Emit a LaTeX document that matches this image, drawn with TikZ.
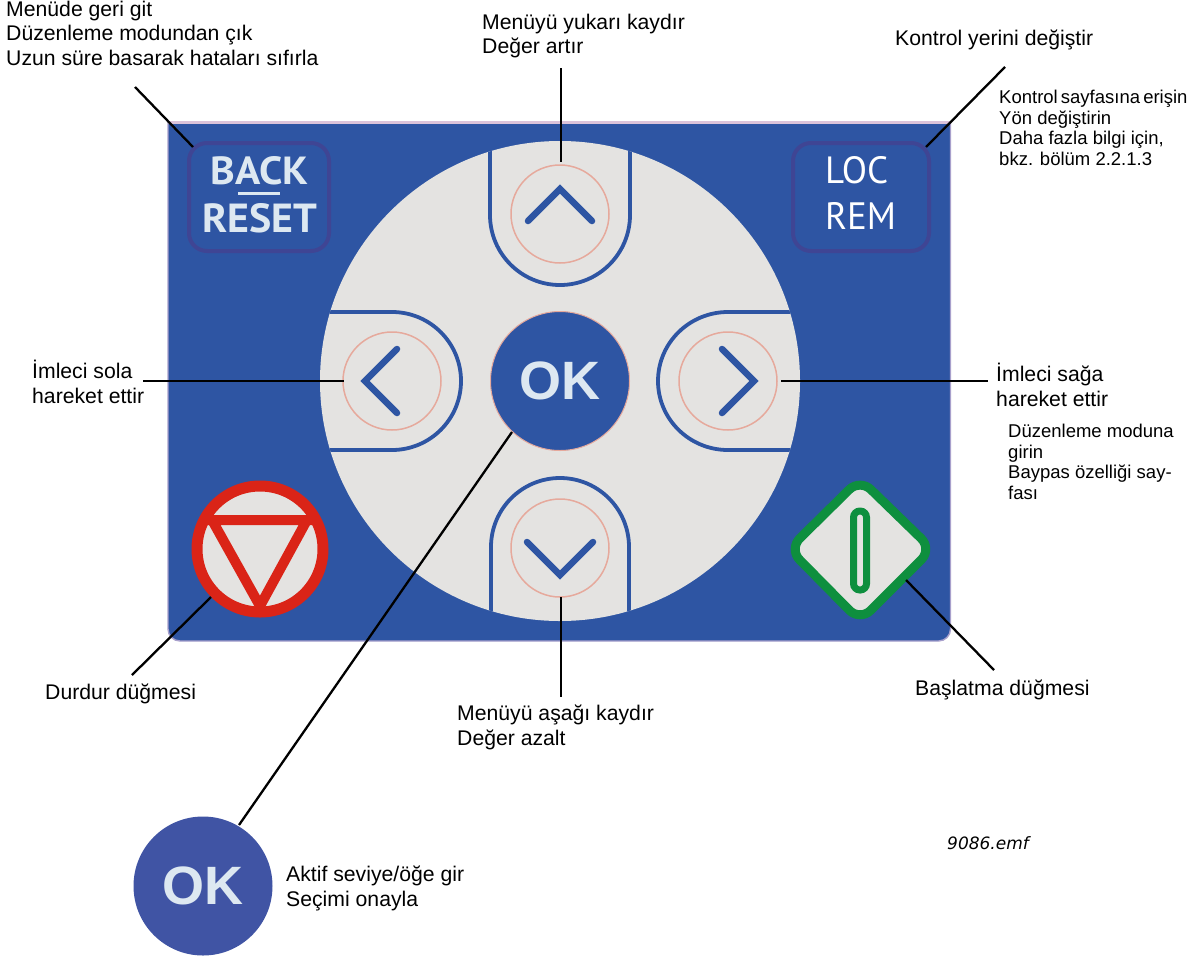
\documentclass[tikz,border=0pt]{standalone}
\usepackage{fontspec}
\setmainfont{Liberation Sans}
\newfontfamily\keyfont{PT Sans}
\newfontfamily\emffont{DejaVu Sans}
\definecolor{panelblue}{HTML}{2E55A3}
\definecolor{disc}{HTML}{E4E3E1}
\definecolor{ringred}{HTML}{E6A99C}
\definecolor{edgepurple}{HTML}{3F4594}
\definecolor{keytext}{HTML}{DDE8F1}
\definecolor{stopred}{HTML}{DA2417}
\definecolor{startgreen}{HTML}{0E8F3E}
\definecolor{okblue}{HTML}{4054A4}
\definecolor{paneledge}{HTML}{A8A0CC}
\definecolor{paneltop}{HTML}{DCC3DA}
\tikzset{
  x=1pt,y=-1pt,
  lead/.style={draw=black,line width=2.3pt},
  keyrim/.style={draw=panelblue,line width=3.8pt},
  chev/.style={draw=panelblue,line width=6.5pt,line cap=round,line join=miter},
  ring/.style={draw=ringred,line width=1.5pt},
  softkey/.style={draw=edgepurple,line width=4pt,fill=panelblue,rounded corners=18pt},
  lbl/.style={align=left,inner sep=0pt,font=\fontsize{21.2}{24.8}\selectfont,anchor=north west},
  smalllbl/.style={align=left,inner sep=0pt,font=\fontsize{18.5}{20.9}\selectfont,anchor=north west},
}
\newcommand{\keytxt}[3]{\resizebox{#1pt}{#2pt}{#3}}
\begin{document}
\begin{tikzpicture}
\useasboundingbox (0,0) rectangle (1201,959);
\fill[white] (0,0) rectangle (1201,959);
% panel
\path[fill=panelblue,draw=paneledge,line width=1.4pt]
  (168,123) -- (950.5,123) -- (950.5,300) {[rounded corners=12pt] -- (950.5,641) -- (168,641) -- (168,300)} -- cycle;
\draw[draw=paneltop,line width=2.6pt] (167.5,122.5) -- (951,122.5);
% disc with key outlines
\fill[disc] (560,381) circle[radius=240];
\begin{scope}
\clip (560,381) circle[radius=240];
\draw[keyrim] (490,130) -- (490,215) arc[start angle=180,end angle=360,radius=70,y radius=-70] -- (630,130);
\draw[keyrim] (300,312) -- (392,312) arc[start angle=90,end angle=-90,x radius=69,y radius=-69] -- (300,450);
\draw[keyrim] (820,312) -- (728,312) arc[start angle=90,end angle=270,x radius=70,y radius=-69] -- (820,450);
\draw[keyrim] (491,640) -- (491,547) arc[start angle=180,end angle=0,x radius=69,y radius=-69] -- (629,640);
\end{scope}
% rings
\draw[ring] (560,214) circle[radius=49];
\draw[ring] (392,381) circle[radius=49];
\draw[ring] (728,381) circle[radius=49];
\draw[ring] (560,548) circle[radius=49];
% chevrons
\draw[chev] (528,221) -- (560,189) -- (592,221);
\draw[chev] (397,349) -- (365,381) -- (397,413);
\draw[chev] (722,349) -- (754,381) -- (722,413);
\draw[chev] (527,542) -- (560,575) -- (593,542);
% centre OK
\node[circle,minimum size=139pt,inner sep=0pt,fill=panelblue,draw=ringred,line width=1pt,
  text=keytext,font=\bfseries\fontsize{54}{54}\selectfont] (okc) at (560,381) {OK};
% soft keys
\node[softkey,minimum width=140pt,minimum height=108pt,inner sep=0pt] (backkey) at (259,197) {};
\node[anchor=center,inner sep=0pt,text=keytext] (backt) at (259.5,170.5) {\keyfont\bfseries\keytxt{98}{28}{BACK}};
\node[anchor=center,inner sep=0pt,text=keytext] (resett) at (260,218) {\keyfont\bfseries\keytxt{115}{29}{RESET}};
\fill[keytext] (238,192) rectangle (280,195);
\node[softkey,minimum width=136pt,minimum height=108pt,inner sep=0pt] (lockey) at (861,197) {};
\node[anchor=west,inner sep=0pt,text=white] (loct) at (825,170) {\keyfont\keytxt{63}{27}{LOC}};
\node[anchor=west,inner sep=0pt,text=white] (remt) at (825,215.5) {\keyfont\keytxt{71}{27}{REM}};
% stop
\node[circle,minimum size=126pt,inner sep=0pt,draw=stopred,line width=11pt,fill=disc] (stopk) at (260,549) {};
\begin{scope}
\clip (260,549) circle[radius=64];
\draw[draw=stopred,line width=10pt,line join=miter] (190,520) -- (330,520) (212,520) -- (260,606) -- (307,520);
\end{scope}
% start
\draw[draw=startgreen,line width=9pt,fill=disc,rounded corners=15pt,line join=round]
  (860,479) -- (932,549) -- (860,621) -- (789,549) -- cycle;
\draw[draw=startgreen,line width=7pt,fill=disc,rounded corners=6.4pt] (853.5,511) rectangle (866.5,590);
\node[inner sep=0pt,minimum size=1pt] (startk) at (860,549) {};
% detached OK
\node[circle,minimum size=139pt,inner sep=0pt,fill=okblue,text=keytext,
  font=\bfseries\fontsize{54}{54}\selectfont] (okb) at (203,886) {OK};
% connector ends
\coordinate (c1a) at (135,87); \coordinate (c1b) at (193,147);
\coordinate (c2a) at (561,68); \coordinate (c2b) at (561,162);
\coordinate (c3a) at (1005,67); \coordinate (c3b) at (926,147);
\coordinate (c4a) at (143,381); \coordinate (c4b) at (344,381);
\coordinate (c5a) at (781,381); \coordinate (c5b) at (988,381);
\coordinate (c6a) at (512,432); \coordinate (c6b) at (239,825);
\coordinate (c7a) at (211,597); \coordinate (c7b) at (132,675);
\coordinate (c8a) at (561,597); \coordinate (c8b) at (561,697);
\coordinate (c9a) at (906,580); \coordinate (c9b) at (994,670);
\draw[lead] (c1a) -- (c1b);
\draw[lead] (c2a) -- (c2b);
\draw[lead] (c3a) -- (c3b);
\draw[lead] (c4a) -- (c4b);
\draw[lead] (c5a) -- (c5b);
\draw[lead] (c6a) -- (c6b);
\draw[lead] (c7a) -- (c7b);
\draw[lead] (c8a) -- (c8b);
\draw[lead] (c9a) -- (c9b);
% labels
\node[lbl] (t1) at (6,0.5) {Menüde geri git\\Düzenleme modundan çık\\Uzun süre basarak hataları sıfırla};
\node[lbl] (t2) at (482,13.5) {Menüyü yukarı kaydır\\Değer artır};
\node[lbl] (t3) at (895,29.5) {Kontrol yerini değiştir};
\node[smalllbl] (t4) at (999,89.5) {Kontrol\hspace{-2pt} sayfasına\hspace{-2pt} erişin\\Yön değiştirin\\Daha fazla bilgi için,\\bkz. bölüm 2.2.1.3};
\node[lbl] (t5) at (32,360) {İmleci sola\\hareket ettir};
\node[lbl] (t6) at (996,363) {İmleci sağa\\hareket ettir};
\node[smalllbl] (t7) at (1008,423.5) {Düzenleme moduna\\girin\\Baypas özelliği say-\\fası};
\node[lbl] (t8) at (45,683.5) {Durdur düğmesi};
\node[lbl] (t9) at (457,704.5) {Menüyü aşağı kaydır\\Değer azalt};
\node[lbl] (t10) at (915,679.5) {Başlatma düğmesi};
\node[lbl] (t11) at (286,865.5) {Aktif seviye/öğe gir\\Seçimi onayla};
\node[inner sep=0pt,anchor=north west,font=\emffont\itshape\fontsize{17}{20}\selectfont] (t12) at (947,836) {9086.emf};
\end{tikzpicture}
\end{document}
